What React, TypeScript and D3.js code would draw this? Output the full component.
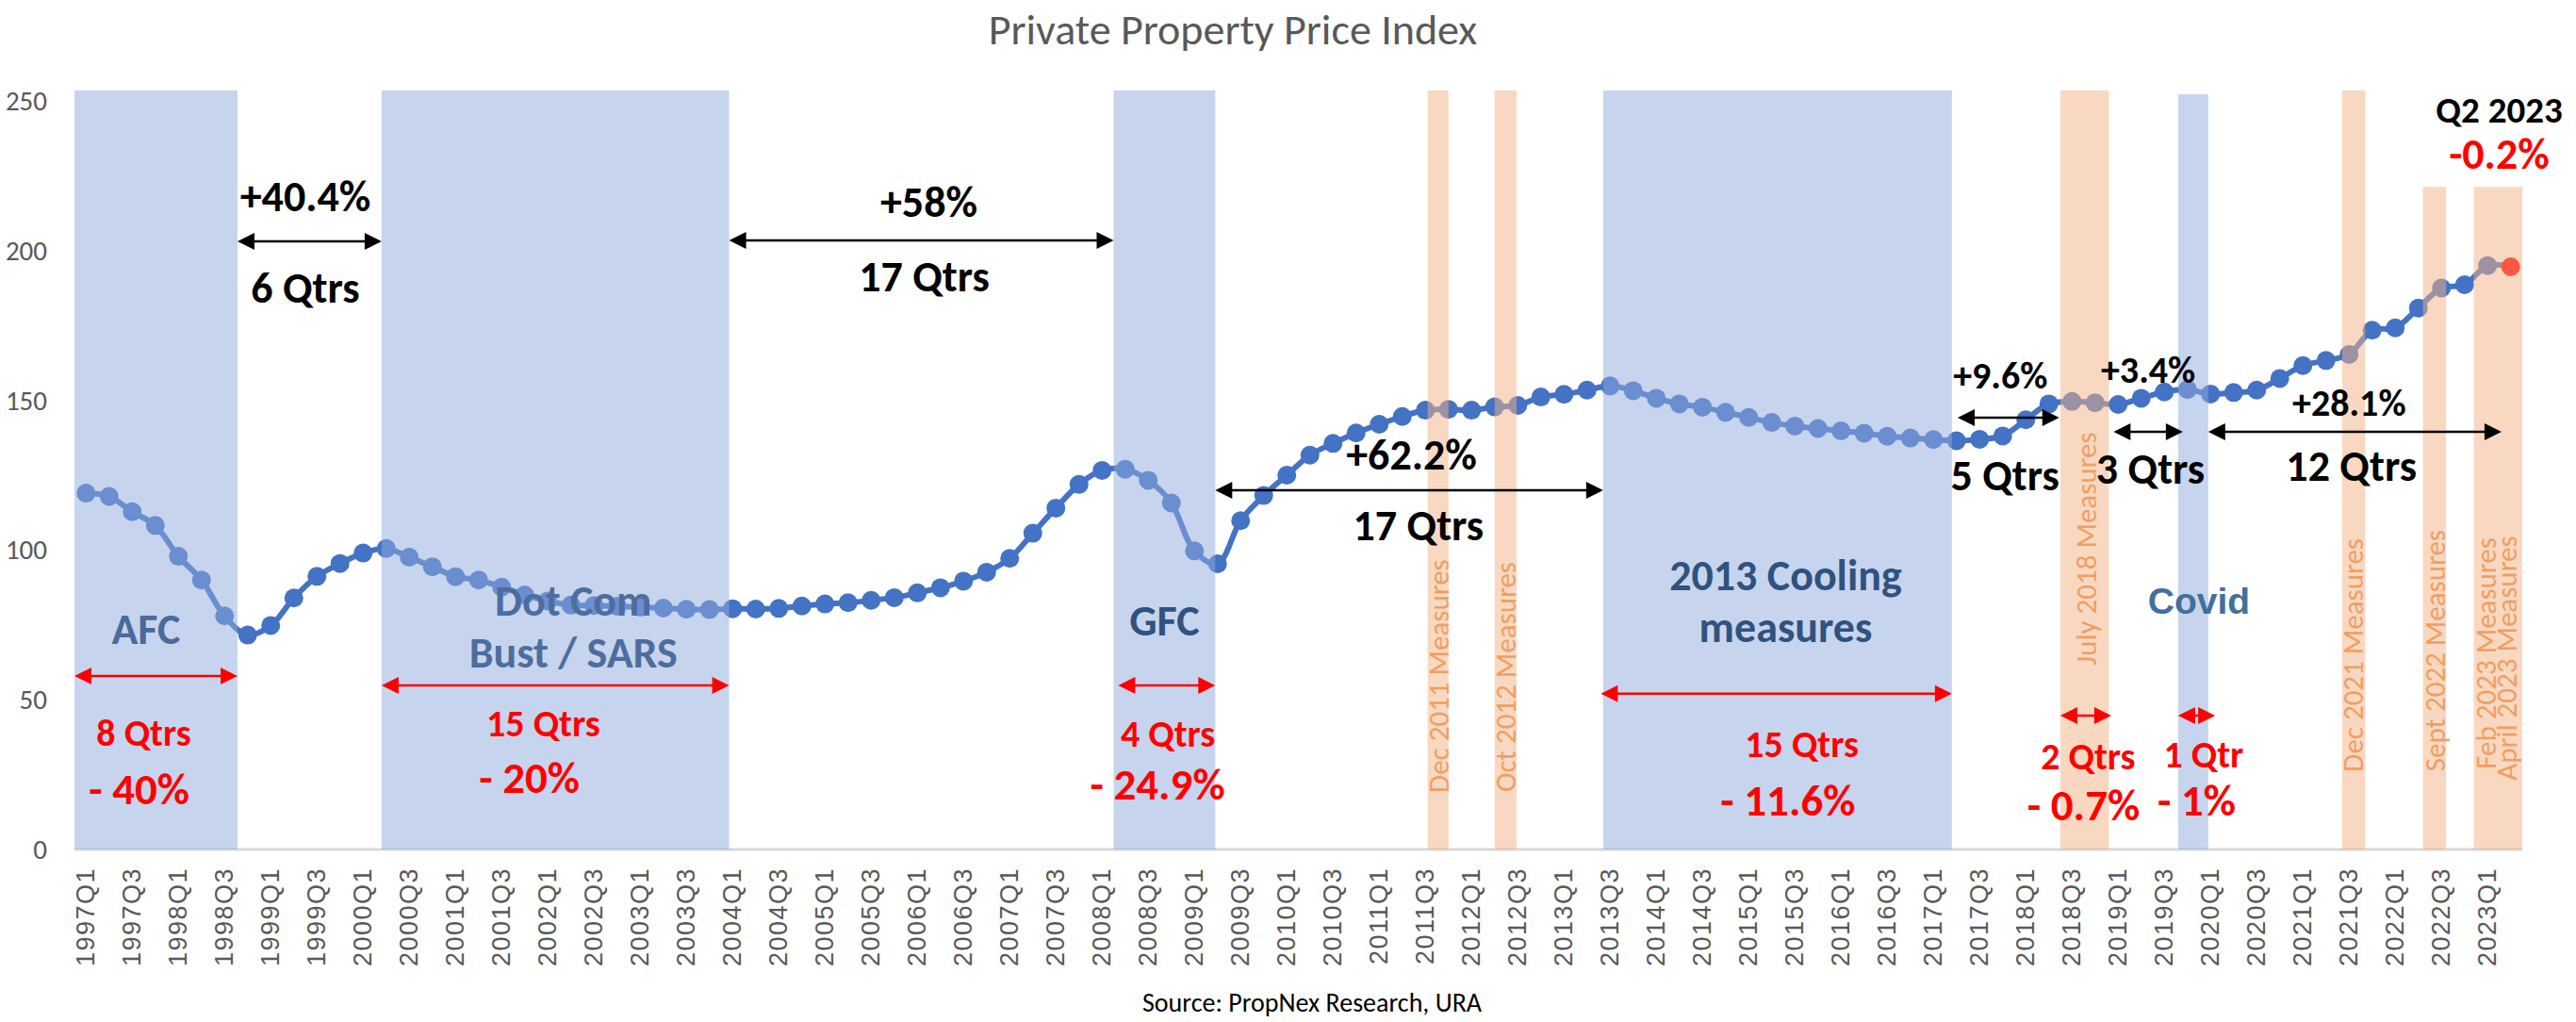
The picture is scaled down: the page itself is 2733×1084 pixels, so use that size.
import React, { useEffect } from "react";
import * as d3 from "d3";

const W = 2733;
const H = 1084;

// ---------- DATA ----------
const startYear = 1997;
const quarterCount = 106; // 1997Q1 .. 2023Q2
const quarters: string[] = d3.range(quarterCount).map(
  (i) => `${startYear + Math.floor(i / 4)}Q${(i % 4) + 1}`
);

const ppi: number[] = [
  119.0, 117.9, 112.8, 108.2, 97.9, 90.0, 78.0, 71.6,
  74.8, 84.0, 91.2, 95.5, 99.0, 100.5, 97.6, 94.4,
  91.1, 90.0, 87.6, 85.0, 83.0, 81.6, 81.5, 81.2,
  80.9, 80.6, 80.2, 80.1, 80.4, 80.3, 80.5, 81.3,
  82.0, 82.4, 83.2, 84.1, 85.7, 87.4, 89.6, 92.6,
  97.2, 105.6, 114.0, 121.9, 126.6, 127.0, 123.3, 115.7,
  99.7, 95.4, 109.8, 118.2, 125.0, 131.7, 135.6, 139.1,
  142.0, 144.6, 146.7, 147.0, 146.7, 147.8, 148.3, 151.1,
  152.0, 153.4, 154.8, 153.2, 150.7, 148.8, 147.7, 146.0,
  144.3, 142.6, 141.4, 140.6, 139.8, 139.0, 138.0, 137.4,
  136.9, 136.5, 137.0, 138.1, 143.5, 148.8, 149.6, 149.2,
  148.6, 150.7, 152.8, 153.6, 152.1, 152.6, 153.4, 157.3,
  161.6, 163.3, 165.3, 173.4, 174.2, 180.8, 187.5, 188.6,
  195.0, 194.6,
];

const yTicks: number[] = [0, 50, 100, 150, 200, 250];
const tickLabels: string[] = quarters.filter((_, i) => i % 2 === 0);

// shaded periods, extents in quarter units (0 = start of 1997Q1)
const crisisBands = [
  { name: "AFC", from: 0, to: 7.06, top: 253.5 },
  { name: "Dot Com", from: 13.3, to: 28.35, top: 253.5 },
  { name: "GFC", from: 45.0, to: 49.4, top: 253.5 },
  { name: "2013 Cooling", from: 66.2, to: 81.3, top: 253.5 },
  { name: "Covid", from: 91.1, to: 92.4, top: 252.2 },
];
const measureBands = [
  { name: "Dec 2011", from: 58.6, to: 59.5, top: 253.5 },
  { name: "Oct 2012", from: 61.5, to: 62.45, top: 253.5 },
  { name: "July 2018", from: 86.0, to: 88.1, top: 253.5 },
  { name: "Dec 2021", from: 98.2, to: 99.2, top: 253.5 },
  { name: "Sept 2022", from: 101.7, to: 102.7, top: 221.3 },
  { name: "Feb/Apr 2023", from: 103.9, to: 106.0, top: 221.3 },
];

// annotations (quarter units, index value units)
const crisisLabels = [
  { lines: ["AFC"], u: 3.1, v: 73.7, color: "#4a6a9c", font: "Lato" },
  { lines: ["Dot Com", "Bust / SARS"], u: 21.6, v: 83.1, color: "#4d6d9e", font: "Lato" },
  { lines: ["GFC"], u: 47.2, v: 76.5, color: "#2f527f", font: "Lato" },
  { lines: ["2013 Cooling", "measures"], u: 74.1, v: 91.6, color: "#2f527f", font: "Lato" },
  { lines: ["Covid"], u: 92.0, v: 83.1, color: "#41709c", font: "Liberation Sans" },
];
const measureLabels = [
  { text: "Dec 2011 Measures", u: 59.06, v: 57.9 },
  { text: "Oct 2012 Measures", u: 61.96, v: 57.6 },
  { text: "July 2018 Measures", u: 87.1, v: 100.4 },
  { text: "Dec 2021 Measures", u: 98.65, v: 64.9 },
  { text: "Sept 2022 Measures", u: 102.2, v: 66.4 },
  { text: "Feb 2023 Measures", u: 104.4, v: 65.5 },
  { text: "April 2023 Measures", u: 105.3, v: 63.9 },
];
const riseArrows = [
  { u1: 7.06, u2: 13.3, v: 203.1 },
  { u1: 28.35, u2: 45.0, v: 203.4 },
  { u1: 49.4, u2: 66.2, v: 120.0 },
  { u1: 81.55, u2: 85.95, v: 144.2 },
  { u1: 88.3, u2: 91.3, v: 139.5 },
  { u1: 92.4, u2: 105.1, v: 139.5 },
];
const riseTexts = [
  { text: "+40.4%", u: 10.0, v: 218.2, size: 46 },
  { text: "6 Qtrs", u: 10.0, v: 187.7, size: 46 },
  { text: "+58%", u: 37.0, v: 216.3, size: 46 },
  { text: "17 Qtrs", u: 36.8, v: 191.4, size: 46 },
  { text: "+62.2%", u: 57.9, v: 131.9, size: 46 },
  { text: "17 Qtrs", u: 58.2, v: 108.3, size: 46 },
  { text: "+9.6%", u: 83.4, v: 158.1, size: 40 },
  { text: "5 Qtrs", u: 83.6, v: 125.0, size: 46 },
  { text: "+3.4%", u: 89.8, v: 160.0, size: 40 },
  { text: "3 Qtrs", u: 89.9, v: 127.2, size: 46 },
  { text: "+28.1%", u: 98.5, v: 149.2, size: 40 },
  { text: "12 Qtrs", u: 98.6, v: 128.1, size: 46 },
];
const fallArrows = [
  { u1: 0, u2: 7.06, v: 57.9 },
  { u1: 13.3, u2: 28.35, v: 54.8 },
  { u1: 45.2, u2: 49.4, v: 54.8 },
  { u1: 66.1, u2: 81.3, v: 52.0 },
  { u1: 86.0, u2: 88.2, v: 44.7 },
  { u1: 91.1, u2: 92.7, v: 44.7 },
];
const fallTexts = [
  { text: "8 Qtrs", u: 3.0, v: 39.0, size: 40 },
  { text: "- 40%", u: 2.8, v: 20.2, size: 47 },
  { text: "15 Qtrs", u: 20.3, v: 41.9, size: 40 },
  { text: "- 20%", u: 19.7, v: 23.9, size: 47 },
  { text: "4 Qtrs", u: 47.35, v: 38.7, size: 40 },
  { text: "- 24.9%", u: 46.9, v: 21.7, size: 47 },
  { text: "15 Qtrs", u: 74.8, v: 35.0, size: 40 },
  { text: "- 11.6%", u: 74.2, v: 16.4, size: 47 },
  { text: "2 Qtrs", u: 87.2, v: 30.9, size: 40 },
  { text: "- 0.7%", u: 87.0, v: 14.8, size: 47 },
  { text: "1 Qtr", u: 92.2, v: 31.8, size: 40 },
  { text: "- 1%", u: 91.9, v: 16.4, size: 47 },
];
const latestLabels = [
  { text: "Q2 2023", u: 105.0, v: 246.9, size: 39, color: "#000000" },
  { text: "-0.2%", u: 105.0, v: 232.4, size: 46, color: "#ff0000" },
];

// ---------- LAYOUT ----------
const plotLeft = 79;
const plotRight = 2676;
const plotBottom = 901;
const plotTop = 107;
const FONT = "Calibri, Carlito, Lato, sans-serif";

const xBand = d3.scaleBand<string>().domain(quarters).range([plotLeft, plotRight]).padding(0);
const xU = d3.scaleLinear().domain([0, quarterCount]).range([plotLeft, plotRight]);
const y = d3.scaleLinear().domain([0, 250]).range([plotBottom, plotTop]);
const cx = (q: string) => (xBand(q) as number) + xBand.bandwidth() / 2;

function Arrow({ u1, u2, v, color, width }: { u1: number; u2: number; v: number; color: string; width: number }) {
  const x1 = xU(u1);
  const x2 = xU(u2);
  const yy = y(v);
  const hl = 18;
  const hw = 9;
  return (
    <g>
      <line x1={x1 + hl - 2} x2={x2 - hl + 2} y1={yy} y2={yy} stroke={color} strokeWidth={width} />
      <path d={`M${x1},${yy}L${x1 + hl},${yy - hw}L${x1 + hl},${yy + hw}Z`} fill={color} />
      <path d={`M${x2},${yy}L${x2 - hl},${yy - hw}L${x2 - hl},${yy + hw}Z`} fill={color} />
    </g>
  );
}

export default function App() {
  useEffect(() => {
    document.body.style.margin = "0";
  }, []);

  const pts = quarters.map((q, i) => [cx(q), y(ppi[i])] as [number, number]);
  const linePath = d3.line().curve(d3.curveCatmullRom.alpha(0.5))(pts) || "";
  const last = quarters.length - 1;

  return (
    <svg width={W} height={H} style={{ display: "block", background: "#ffffff" }} fontFamily={FONT}>
      {/* title */}
      <text x={1308} y={31} textAnchor="middle" dominantBaseline="central" fontSize={46} fill="#595959">
        Private Property Price Index
      </text>

      {/* y axis labels */}
      {yTicks.map((t) => (
        <text key={t} x={50} y={y(t)} textAnchor="end" dominantBaseline="central" fontSize={29} fill="#595959">
          {t}
        </text>
      ))}

      {/* x axis */}
      <line x1={plotLeft} x2={plotRight} y1={plotBottom} y2={plotBottom} stroke="#d9d9d9" strokeWidth={3} />
      {tickLabels.map((q) => (
        <text
          key={q}
          transform={`translate(${cx(q)},${plotBottom + 19}) rotate(-90)`}
          textAnchor="end"
          dominantBaseline="central"
          fontFamily="'Liberation Sans', Arial, sans-serif"
          fontSize={27}
          letterSpacing={1.5}
          fill="#595959"
        >
          {q}
        </text>
      ))}

      {/* series */}
      <path d={linePath} fill="none" stroke="#4472c4" strokeWidth={6} />
      {quarters.map((q, i) => (
        <circle key={q} cx={cx(q)} cy={y(ppi[i])} r={10} fill={i === last ? "#ff0000" : "#4472c4"} />
      ))}

      {/* translucent period bands over the line */}
      {crisisBands.map((b) => (
        <rect
          key={b.name}
          x={xU(b.from)}
          width={xU(b.to) - xU(b.from)}
          y={y(b.top)}
          height={y(0) - y(b.top)}
          fill="#8faadc"
          fillOpacity={0.5}
        />
      ))}
      {measureBands.map((b) => (
        <rect
          key={b.name}
          x={xU(b.from)}
          width={xU(b.to) - xU(b.from)}
          y={y(b.top)}
          height={y(0) - y(b.top)}
          fill="#f4b183"
          fillOpacity={0.5}
        />
      ))}

      {/* band labels */}
      {crisisLabels.map((l) => (
        <text
          key={l.lines[0]}
          x={xU(l.u)}
          y={y(l.v)}
          textAnchor="middle"
          dominantBaseline="central"
          fontFamily={l.font === "Lato" ? FONT : "'Liberation Sans', Arial, sans-serif"}
          fontWeight="bold"
          fontSize={l.font === "Lato" ? 46 : 39}
          fill={l.color}
        >
          {l.lines.map((s, k) => (
            <tspan key={k} x={xU(l.u)} dy={k === 0 ? 0 : 55}>
              {s}
            </tspan>
          ))}
        </text>
      ))}
      {measureLabels.map((l) => (
        <text
          key={l.text}
          transform={`translate(${xU(l.u)},${y(l.v)}) rotate(-90)`}
          textAnchor="middle"
          dominantBaseline="central"
          fontSize={31}
          fill="#ef9f63"
        >
          {l.text}
        </text>
      ))}

      {/* rise annotations */}
      {riseArrows.map((a, k) => (
        <Arrow key={k} u1={a.u1} u2={a.u2} v={a.v} color="#000000" width={2.5} />
      ))}
      {riseTexts.map((t, k) => (
        <text
          key={k}
          x={xU(t.u)}
          y={y(t.v)}
          textAnchor="middle"
          dominantBaseline="central"
          fontWeight="bold"
          fontSize={t.size}
          fill="#000000"
        >
          {t.text}
        </text>
      ))}

      {/* fall annotations */}
      {fallArrows.map((a, k) => (
        <Arrow key={k} u1={a.u1} u2={a.u2} v={a.v} color="#ff0000" width={2.5} />
      ))}
      {fallTexts.map((t, k) => (
        <text
          key={k}
          x={xU(t.u)}
          y={y(t.v)}
          textAnchor="middle"
          dominantBaseline="central"
          fontWeight="bold"
          fontSize={t.size}
          fill="#ff0000"
        >
          {t.text}
        </text>
      ))}

      {latestLabels.map((t) => (
        <text
          key={t.text}
          x={xU(t.u)}
          y={y(t.v)}
          textAnchor="middle"
          dominantBaseline="central"
          fontWeight="bold"
          fontSize={t.size}
          fill={t.color}
        >
          {t.text}
        </text>
      ))}

      {/* source */}
      <text x={1392} y={1063} textAnchor="middle" dominantBaseline="central" fontSize={28} fill="#000000">
        Source: PropNex Research, URA
      </text>
    </svg>
  );
}
